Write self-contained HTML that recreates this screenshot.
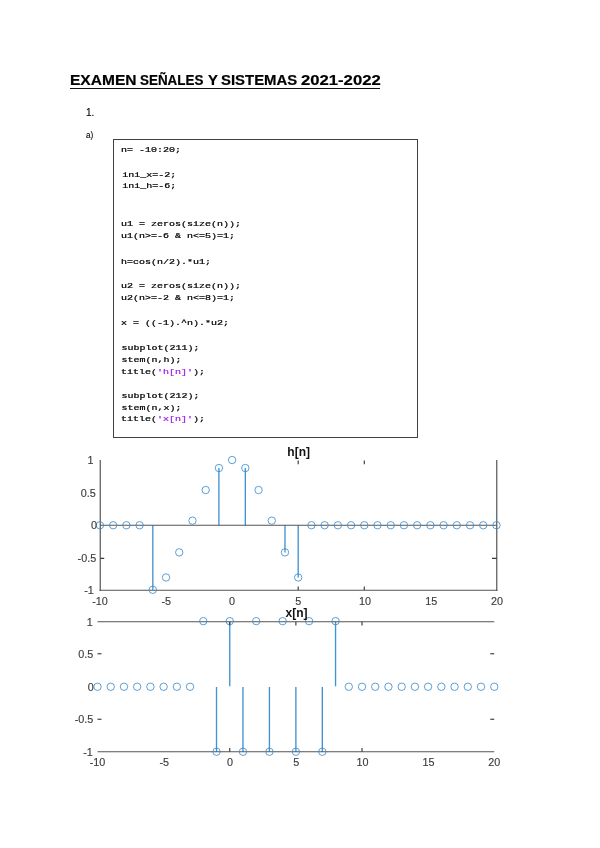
<!DOCTYPE html>
<html><head><meta charset="utf-8"><title>Examen</title>
<style>
html,body{margin:0;padding:0;background:#fff}
body{width:600px;height:848px;position:relative;overflow:hidden;font-family:"Liberation Sans",sans-serif;color:#000}
.tw{position:absolute;top:71.9px;font:bold 14px/16px "Liberation Sans",sans-serif;white-space:pre;transform-origin:0 0;color:#000;-webkit-text-stroke:0.2px #000}
.ul{position:absolute;left:70px;top:88.2px;width:310.3px;height:1.3px;background:#111}
.p{position:absolute;font:10px/12px "Liberation Sans",sans-serif;white-space:pre;color:#000;-webkit-text-stroke:0.12px #000}
.box{position:absolute;left:112.9px;top:138.9px;width:302.8px;height:296.9px;border:1px solid #404040;box-sizing:content-box}
svg{position:absolute;left:0;top:0}
.cd{font:10px "Liberation Mono",monospace;fill:#000;stroke:#000;stroke-width:0.3px}
.cd .s{fill:#a020f0;stroke:#a020f0}
.tk{font:10.8px "Liberation Sans",sans-serif;fill:#3c3c3c;stroke:#3c3c3c;stroke-width:0.15px}
.tt{font:bold 12px "Liberation Sans",sans-serif;fill:#111}
</style></head><body>
<div id="pg" style="position:absolute;left:0;top:0;width:600px;height:848px;will-change:transform"><span class="tw" style="left:69.75px;transform:scaleX(1.1101)">EXAMEN</span><span class="tw" style="left:139.5px;transform:scaleX(0.9588)">SEÑALES</span><span class="tw" style="left:207.58px;transform:scaleX(1.0553)">Y</span><span class="tw" style="left:220.78px;transform:scaleX(1.0657)">SISTEMAS</span><span class="tw" style="left:300.65px;transform:scaleX(1.1904)">2021-2022</span><div class="ul"></div>
<div class="p" style="left:86px;top:106.6px">1.</div>
<div class="p" style="left:85.8px;top:130.2px;transform:scale(.82,.93);transform-origin:0 0">a)</div>
<div class="box"></div>
<svg width="600" height="848" viewBox="0 0 600 848">
<text class="cd" xml:space="preserve" transform="translate(121.0,151.6) scale(1,0.8)">n= -10:20;</text>
<text class="cd" xml:space="preserve" transform="translate(122.3,176.6) scale(1,0.8)">ini_x=-2;</text>
<text class="cd" xml:space="preserve" transform="translate(122.3,187.6) scale(1,0.8)">ini_h=-6;</text>
<text class="cd" xml:space="preserve" transform="translate(121.0,226) scale(1,0.8)">u1 = zeros(size(n));</text>
<text class="cd" xml:space="preserve" transform="translate(121.0,238) scale(1,0.8)">u1(n&gt;=-6 &amp; n&lt;=5)=1;</text>
<text class="cd" xml:space="preserve" transform="translate(121.0,264) scale(1,0.8)">h=cos(n/2).*u1;</text>
<text class="cd" xml:space="preserve" transform="translate(121.0,288) scale(1,0.8)">u2 = zeros(size(n));</text>
<text class="cd" xml:space="preserve" transform="translate(121.0,299.6) scale(1,0.8)">u2(n&gt;=-2 &amp; n&lt;=8)=1;</text>
<text class="cd" xml:space="preserve" transform="translate(121.0,325) scale(1,0.8)">x = ((-1).^n).*u2;</text>
<text class="cd" xml:space="preserve" transform="translate(121.6,350) scale(1,0.8)">subplot(211);</text>
<text class="cd" xml:space="preserve" transform="translate(121.6,362) scale(1,0.8)">stem(n,h);</text>
<text class="cd" xml:space="preserve" transform="translate(121.0,373.6) scale(1,0.8)">title(<tspan class="s">'h[n]'</tspan>);</text>
<text class="cd" xml:space="preserve" transform="translate(121.6,398.4) scale(1,0.8)">subplot(212);</text>
<text class="cd" xml:space="preserve" transform="translate(121.6,409.6) scale(1,0.8)">stem(n,x);</text>
<text class="cd" xml:space="preserve" transform="translate(121.0,421) scale(1,0.8)">title(<tspan class="s">'x[n]'</tspan>);</text>
<defs><clipPath id="c1"><rect x="0" y="440" width="600" height="165.3"/></clipPath></defs>
<g clip-path="url(#c1)">
<line x1="152.82" y1="525.25" x2="152.82" y2="589.80" stroke="#4293d2" stroke-width="1.35"/>
<line x1="218.90" y1="525.25" x2="218.90" y2="468.03" stroke="#4293d2" stroke-width="1.35"/>
<line x1="245.34" y1="525.25" x2="245.34" y2="468.03" stroke="#4293d2" stroke-width="1.35"/>
<line x1="284.99" y1="525.25" x2="284.99" y2="552.38" stroke="#4293d2" stroke-width="1.35"/>
<line x1="298.20" y1="525.25" x2="298.20" y2="577.48" stroke="#4293d2" stroke-width="1.35"/>
<line x1="100.25" y1="460" x2="100.25" y2="590.9" stroke="#555555" stroke-width="1.2"/>
<line x1="496.76" y1="460" x2="496.76" y2="590.9" stroke="#555555" stroke-width="1.2"/>
<line x1="99.55" y1="590.25" x2="497.36" y2="590.25" stroke="#555555" stroke-width="1.2"/>
<line x1="100.25" y1="525.25" x2="496.76" y2="525.25" stroke="#555555" stroke-width="1.2"/>
<line x1="298.20" y1="460.5" x2="298.20" y2="464.2" stroke="#3a3a3a" stroke-width="1.15"/>
<line x1="298.20" y1="586.6" x2="298.20" y2="590" stroke="#3a3a3a" stroke-width="1.15"/>
<line x1="364.29" y1="460.5" x2="364.29" y2="464.2" stroke="#3a3a3a" stroke-width="1.15"/>
<line x1="364.29" y1="586.6" x2="364.29" y2="590" stroke="#3a3a3a" stroke-width="1.15"/>
<line x1="100.25" y1="558.3" x2="104.2" y2="558.3" stroke="#3a3a3a" stroke-width="1.15"/>
<line x1="492" y1="558.3" x2="496.76" y2="558.3" stroke="#3a3a3a" stroke-width="1.15"/>
<circle cx="99.95" cy="525.25" r="3.7" fill="none" stroke="#3388cb" stroke-width="0.8"/>
<circle cx="113.17" cy="525.25" r="3.7" fill="none" stroke="#3388cb" stroke-width="0.8"/>
<circle cx="126.38" cy="525.25" r="3.7" fill="none" stroke="#3388cb" stroke-width="0.8"/>
<circle cx="139.60" cy="525.25" r="3.7" fill="none" stroke="#3388cb" stroke-width="0.8"/>
<circle cx="152.82" cy="589.80" r="3.7" fill="none" stroke="#3388cb" stroke-width="0.8"/>
<circle cx="166.04" cy="577.48" r="3.7" fill="none" stroke="#3388cb" stroke-width="0.8"/>
<circle cx="179.25" cy="552.38" r="3.7" fill="none" stroke="#3388cb" stroke-width="0.8"/>
<circle cx="192.47" cy="520.64" r="3.7" fill="none" stroke="#3388cb" stroke-width="0.8"/>
<circle cx="205.69" cy="490.02" r="3.7" fill="none" stroke="#3388cb" stroke-width="0.8"/>
<circle cx="218.90" cy="468.03" r="3.7" fill="none" stroke="#3388cb" stroke-width="0.8"/>
<circle cx="232.12" cy="460.05" r="3.7" fill="none" stroke="#3388cb" stroke-width="0.8"/>
<circle cx="245.34" cy="468.03" r="3.7" fill="none" stroke="#3388cb" stroke-width="0.8"/>
<circle cx="258.55" cy="490.02" r="3.7" fill="none" stroke="#3388cb" stroke-width="0.8"/>
<circle cx="271.77" cy="520.64" r="3.7" fill="none" stroke="#3388cb" stroke-width="0.8"/>
<circle cx="284.99" cy="552.38" r="3.7" fill="none" stroke="#3388cb" stroke-width="0.8"/>
<circle cx="298.20" cy="577.48" r="3.7" fill="none" stroke="#3388cb" stroke-width="0.8"/>
<circle cx="311.42" cy="525.25" r="3.7" fill="none" stroke="#3388cb" stroke-width="0.8"/>
<circle cx="324.64" cy="525.25" r="3.7" fill="none" stroke="#3388cb" stroke-width="0.8"/>
<circle cx="337.86" cy="525.25" r="3.7" fill="none" stroke="#3388cb" stroke-width="0.8"/>
<circle cx="351.07" cy="525.25" r="3.7" fill="none" stroke="#3388cb" stroke-width="0.8"/>
<circle cx="364.29" cy="525.25" r="3.7" fill="none" stroke="#3388cb" stroke-width="0.8"/>
<circle cx="377.51" cy="525.25" r="3.7" fill="none" stroke="#3388cb" stroke-width="0.8"/>
<circle cx="390.72" cy="525.25" r="3.7" fill="none" stroke="#3388cb" stroke-width="0.8"/>
<circle cx="403.94" cy="525.25" r="3.7" fill="none" stroke="#3388cb" stroke-width="0.8"/>
<circle cx="417.16" cy="525.25" r="3.7" fill="none" stroke="#3388cb" stroke-width="0.8"/>
<circle cx="430.38" cy="525.25" r="3.7" fill="none" stroke="#3388cb" stroke-width="0.8"/>
<circle cx="443.59" cy="525.25" r="3.7" fill="none" stroke="#3388cb" stroke-width="0.8"/>
<circle cx="456.81" cy="525.25" r="3.7" fill="none" stroke="#3388cb" stroke-width="0.8"/>
<circle cx="470.03" cy="525.25" r="3.7" fill="none" stroke="#3388cb" stroke-width="0.8"/>
<circle cx="483.24" cy="525.25" r="3.7" fill="none" stroke="#3388cb" stroke-width="0.8"/>
<circle cx="496.46" cy="525.25" r="3.7" fill="none" stroke="#3388cb" stroke-width="0.8"/>
<text x="93.6" y="464.3" text-anchor="end" class="tk">1</text>
<text x="95.8" y="497.0" text-anchor="end" class="tk">0.5</text>
<text x="96.9" y="529.0" text-anchor="end" class="tk">0</text>
<text x="96.2" y="562.1" text-anchor="end" class="tk">-0.5</text>
<text x="93.8" y="594.3" text-anchor="end" class="tk">-1</text>
<text x="100" y="605.3" text-anchor="middle" class="tk">-10</text>
<text x="166.3" y="605.3" text-anchor="middle" class="tk">-5</text>
<text x="232" y="605.3" text-anchor="middle" class="tk">0</text>
<text x="298.3" y="605.3" text-anchor="middle" class="tk">5</text>
<text x="365" y="605.3" text-anchor="middle" class="tk">10</text>
<text x="431.2" y="605.3" text-anchor="middle" class="tk">15</text>
<text x="497" y="605.3" text-anchor="middle" class="tk">20</text>
<text x="298.7" y="456.3" text-anchor="middle" class="tt">h[n]</text>
</g>
<line x1="229.75" y1="686.3" x2="229.75" y2="621.75" stroke="#4293d2" stroke-width="1.35"/>
<line x1="335.55" y1="686.3" x2="335.55" y2="621.75" stroke="#4293d2" stroke-width="1.35"/>
<line x1="216.52" y1="687" x2="216.52" y2="751.75" stroke="#4293d2" stroke-width="1.35"/>
<line x1="242.97" y1="687" x2="242.97" y2="751.75" stroke="#4293d2" stroke-width="1.35"/>
<line x1="269.42" y1="687" x2="269.42" y2="751.75" stroke="#4293d2" stroke-width="1.35"/>
<line x1="295.88" y1="687" x2="295.88" y2="751.75" stroke="#4293d2" stroke-width="1.35"/>
<line x1="322.32" y1="687" x2="322.32" y2="751.75" stroke="#4293d2" stroke-width="1.35"/>
<line x1="97.5" y1="621.75" x2="494.25" y2="621.75" stroke="#555555" stroke-width="1.2"/>
<line x1="97.5" y1="751.75" x2="494.25" y2="751.75" stroke="#555555" stroke-width="1.2"/>
<line x1="229.75" y1="621.75" x2="229.75" y2="625.5" stroke="#3a3a3a" stroke-width="1.15"/>
<line x1="295.88" y1="621.75" x2="295.88" y2="625.5" stroke="#3a3a3a" stroke-width="1.15"/>
<line x1="362.00" y1="621.75" x2="362.00" y2="625.5" stroke="#3a3a3a" stroke-width="1.15"/>
<line x1="229.75" y1="748" x2="229.75" y2="751.75" stroke="#3a3a3a" stroke-width="1.15"/>
<line x1="362.00" y1="748" x2="362.00" y2="751.75" stroke="#3a3a3a" stroke-width="1.15"/>
<line x1="97.5" y1="653.75" x2="101.5" y2="653.75" stroke="#3a3a3a" stroke-width="1.15"/>
<line x1="490.25" y1="653.75" x2="494.25" y2="653.75" stroke="#3a3a3a" stroke-width="1.15"/>
<line x1="97.5" y1="719.25" x2="101.5" y2="719.25" stroke="#3a3a3a" stroke-width="1.15"/>
<line x1="490.25" y1="719.25" x2="494.25" y2="719.25" stroke="#3a3a3a" stroke-width="1.15"/>
<circle cx="97.50" cy="686.75" r="3.7" fill="none" stroke="#3388cb" stroke-width="0.8"/>
<circle cx="110.72" cy="686.75" r="3.7" fill="none" stroke="#3388cb" stroke-width="0.8"/>
<circle cx="123.95" cy="686.75" r="3.7" fill="none" stroke="#3388cb" stroke-width="0.8"/>
<circle cx="137.18" cy="686.75" r="3.7" fill="none" stroke="#3388cb" stroke-width="0.8"/>
<circle cx="150.40" cy="686.75" r="3.7" fill="none" stroke="#3388cb" stroke-width="0.8"/>
<circle cx="163.62" cy="686.75" r="3.7" fill="none" stroke="#3388cb" stroke-width="0.8"/>
<circle cx="176.85" cy="686.75" r="3.7" fill="none" stroke="#3388cb" stroke-width="0.8"/>
<circle cx="190.07" cy="686.75" r="3.7" fill="none" stroke="#3388cb" stroke-width="0.8"/>
<circle cx="203.30" cy="621.15" r="3.7" fill="none" stroke="#3388cb" stroke-width="0.8"/>
<circle cx="216.52" cy="751.75" r="3.7" fill="none" stroke="#3388cb" stroke-width="0.8"/>
<circle cx="229.75" cy="621.15" r="3.7" fill="none" stroke="#3388cb" stroke-width="0.8"/>
<circle cx="242.97" cy="751.75" r="3.7" fill="none" stroke="#3388cb" stroke-width="0.8"/>
<circle cx="256.20" cy="621.15" r="3.7" fill="none" stroke="#3388cb" stroke-width="0.8"/>
<circle cx="269.42" cy="751.75" r="3.7" fill="none" stroke="#3388cb" stroke-width="0.8"/>
<circle cx="282.65" cy="621.15" r="3.7" fill="none" stroke="#3388cb" stroke-width="0.8"/>
<circle cx="295.88" cy="751.75" r="3.7" fill="none" stroke="#3388cb" stroke-width="0.8"/>
<circle cx="309.10" cy="621.15" r="3.7" fill="none" stroke="#3388cb" stroke-width="0.8"/>
<circle cx="322.32" cy="751.75" r="3.7" fill="none" stroke="#3388cb" stroke-width="0.8"/>
<circle cx="335.55" cy="621.15" r="3.7" fill="none" stroke="#3388cb" stroke-width="0.8"/>
<circle cx="348.77" cy="686.75" r="3.7" fill="none" stroke="#3388cb" stroke-width="0.8"/>
<circle cx="362.00" cy="686.75" r="3.7" fill="none" stroke="#3388cb" stroke-width="0.8"/>
<circle cx="375.22" cy="686.75" r="3.7" fill="none" stroke="#3388cb" stroke-width="0.8"/>
<circle cx="388.45" cy="686.75" r="3.7" fill="none" stroke="#3388cb" stroke-width="0.8"/>
<circle cx="401.68" cy="686.75" r="3.7" fill="none" stroke="#3388cb" stroke-width="0.8"/>
<circle cx="414.90" cy="686.75" r="3.7" fill="none" stroke="#3388cb" stroke-width="0.8"/>
<circle cx="428.12" cy="686.75" r="3.7" fill="none" stroke="#3388cb" stroke-width="0.8"/>
<circle cx="441.35" cy="686.75" r="3.7" fill="none" stroke="#3388cb" stroke-width="0.8"/>
<circle cx="454.57" cy="686.75" r="3.7" fill="none" stroke="#3388cb" stroke-width="0.8"/>
<circle cx="467.80" cy="686.75" r="3.7" fill="none" stroke="#3388cb" stroke-width="0.8"/>
<circle cx="481.02" cy="686.75" r="3.7" fill="none" stroke="#3388cb" stroke-width="0.8"/>
<circle cx="494.25" cy="686.75" r="3.7" fill="none" stroke="#3388cb" stroke-width="0.8"/>
<text x="92.8" y="625.5" text-anchor="end" class="tk">1</text>
<text x="93.3" y="657.5" text-anchor="end" class="tk">0.5</text>
<text x="93.8" y="690.5" text-anchor="end" class="tk">0</text>
<text x="93.3" y="723.0" text-anchor="end" class="tk">-0.5</text>
<text x="92.8" y="756.3" text-anchor="end" class="tk">-1</text>
<text x="97.5" y="766.3" text-anchor="middle" class="tk">-10</text>
<text x="164.3" y="766.3" text-anchor="middle" class="tk">-5</text>
<text x="230" y="766.3" text-anchor="middle" class="tk">0</text>
<text x="296.3" y="766.3" text-anchor="middle" class="tk">5</text>
<text x="362.5" y="766.3" text-anchor="middle" class="tk">10</text>
<text x="428.5" y="766.3" text-anchor="middle" class="tk">15</text>
<text x="494.3" y="766.3" text-anchor="middle" class="tk">20</text>
<text x="296.5" y="617.1" text-anchor="middle" class="tt">x[n]</text>
</svg>
</div>
</body></html>
